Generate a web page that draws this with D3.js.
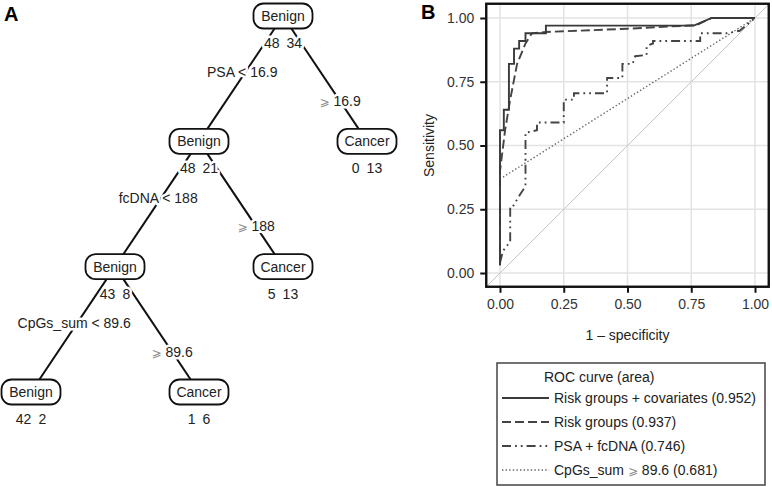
<!DOCTYPE html>
<html lang="en">
<head>
<meta charset="utf-8">
<title>Decision tree and ROC curves</title>
<script src="https://d3js.org/d3.v7.min.js"></script>
<style>
  body { margin: 0; background: #fff; }
  svg { font-family: "Liberation Sans", Arial, sans-serif; }
</style>
</head>
<body>
<script>
// ---- tree data (panel A)
const nodeIds      = ["n1", "n2", "n3", "n4", "n5", "n6", "n7"];
const nodeParents  = ["", "n1", "n1", "n2", "n2", "n4", "n4"];
const nodeClasses  = ["Benign", "Benign", "Cancer", "Benign", "Cancer", "Benign", "Cancer"];
const benignCounts = [48, 48, 0, 43, 5, 42, 1];
const cancerCounts = [34, 21, 13, 8, 13, 2, 6];
const splitLabels  = ["", "PSA < 16.9", "\u2A7E 16.9", "fcDNA < 188", "\u2A7E 188", "CpGs_sum < 89.6", "\u2A7E 89.6"];

// ---- ROC data (panel B)
const riskCovFpr  = [0, 0, 0.015, 0.015, 0.035, 0.035, 0.055, 0.055, 0.075, 0.075, 0.1, 0.1, 0.18, 0.18, 0.76, 0.83, 1];
const riskCovSens = [0.03, 0.56, 0.56, 0.64, 0.64, 0.82, 0.82, 0.88, 0.88, 0.91, 0.91, 0.94, 0.94, 0.97, 0.97, 1, 1];
const riskFpr  = [0, 0, 0.02, 0.04, 0.067, 0.1, 0.125, 0.18, 0.5, 0.77, 0.83, 1];
const riskSens = [0.03, 0.4, 0.56, 0.68, 0.82, 0.9, 0.94, 0.945, 0.958, 0.972, 1, 1];
const psaFpr  = [0, 0.01, 0.02, 0.04, 0.04, 0.05, 0.08, 0.1, 0.1, 0.145, 0.145, 0.25, 0.25, 0.29, 0.29, 0.42, 0.42, 0.48, 0.48, 0.52, 0.53, 0.575, 0.575, 0.6, 0.6, 0.785, 0.785, 0.89, 0.94, 1];
const psaSens = [0.04, 0.08, 0.1, 0.12, 0.26, 0.26, 0.31, 0.34, 0.55, 0.56, 0.59, 0.59, 0.68, 0.68, 0.705, 0.705, 0.765, 0.765, 0.82, 0.82, 0.85, 0.855, 0.89, 0.9, 0.91, 0.91, 0.94, 0.94, 0.95, 1];
const cpgFpr  = [0.012, 1];
const cpgSens = [0.376, 1];

const seriesNames = ["Risk groups + covariates (0.952)", "Risk groups (0.937)", "PSA + fcDNA (0.746)", "CpGs_sum \u2A7E 89.6 (0.681)"];
const axisTicks = [0, 0.25, 0.5, 0.75, 1];

const width = 772, height = 487;

const svg = d3.select("body").append("svg")
  .attr("width", width)
  .attr("height", height);

// ================= PANEL A : tree =================
svg.append("text").attr("x", 4).attr("y", 21)
  .attr("font-size", 20).attr("font-weight", "bold").text("A");

const table = nodeIds.map((id, i) => ({
  id, parent: nodeParents[i], cls: nodeClasses[i],
  benign: benignCounts[i], cancer: cancerCounts[i], split: splitLabels[i]
}));
const root = d3.stratify().id(d => d.id).parentId(d => d.parent || null)(table);

// column index: left child one step left, right child one step right
root.col = 3;
root.eachBefore(n => {
  if (n.children) {
    n.children[0].col = n.col - 1;
    if (n.children[1]) n.children[1].col = n.col + 1;
  }
});
const colX = d3.scaleLinear().domain([0, 4]).range([31, 367]);
const depthY = d3.scaleLinear().domain([0, 3]).range([16, 392]);
root.each(n => { n.x = colX(n.col); n.y = depthY(n.depth); });

const treeG = svg.append("g");
const links = root.links();

// edges
treeG.selectAll("line.edge").data(links).join("line")
  .attr("class", "edge")
  .attr("x1", d => d.source.x).attr("y1", d => d.source.y)
  .attr("x2", d => d.target.x).attr("y2", d => d.target.y)
  .attr("stroke", "#111").attr("stroke-width", 2);

// split labels on edges (white halo cuts the line)
const halo = sel => sel.attr("stroke", "#fff").attr("stroke-width", 5)
  .attr("paint-order", "stroke").attr("stroke-linejoin", "round");

links.forEach(l => {
  const isLeft = l.target.col < l.source.col;
  const t = isLeft ? 0.45 : 0.68;
  const lx = l.source.x + (l.target.x - l.source.x) * t + (isLeft ? -3 : 0);
  const ly = l.source.y + (l.target.y - l.source.y) * t;
  const txt = treeG.append("text")
    .attr("x", lx).attr("y", ly).attr("dy", "0.35em")
    .attr("text-anchor", "middle").attr("font-size", 14).attr("fill", "#222")
    .call(halo);
  const s = l.target.data.split;
  if (s.startsWith("\u2A7E")) {
    txt.append("tspan").attr("fill", "#888").attr("font-family", "DejaVu Sans").attr("font-size", 12).text("\u2A7E");
    txt.append("tspan").text(s.slice(1));
  } else {
    txt.text(s);
  }
});

// nodes
const nodeG = treeG.selectAll("g.node").data(root.descendants()).join("g")
  .attr("class", "node")
  .attr("transform", d => `translate(${d.x},${d.y})`);

nodeG.append("rect")
  .attr("x", -29.5).attr("y", -12.5).attr("width", 59).attr("height", 25)
  .attr("rx", 10).attr("ry", 10)
  .attr("fill", "#fff").attr("stroke", "#111").attr("stroke-width", 1.8);

nodeG.append("text")
  .attr("text-anchor", "middle").attr("dy", "0.36em")
  .attr("font-size", 14).attr("fill", "#222")
  .text(d => d.data.cls);

nodeG.append("text")
  .attr("y", 27).attr("dy", "0.36em").attr("text-anchor", "middle")
  .attr("font-size", 14).attr("fill", "#222")
  .call(halo)
  .text(d => `${d.data.benign}\u2002${d.data.cancer}`);

// ================= PANEL B : ROC =================
svg.append("text").attr("x", 421).attr("y", 19)
  .attr("font-size", 20).attr("font-weight", "bold").text("B");

const x = d3.scaleLinear().domain([0, 1]).range([500, 755]);
const y = d3.scaleLinear().domain([0, 1]).range([273, 18]);
const x0 = x(-0.05), x1 = x(1.05), y0 = y(-0.05), y1 = y(1.05);

const plot = svg.append("g");

// grid
plot.selectAll("line.gx").data(axisTicks).join("line")
  .attr("x1", d => x(d)).attr("x2", d => x(d)).attr("y1", y1).attr("y2", y0)
  .attr("stroke", "#e3e3e3").attr("stroke-width", 1.5);
plot.selectAll("line.gy").data(axisTicks).join("line")
  .attr("y1", d => y(d)).attr("y2", d => y(d)).attr("x1", x0).attr("x2", x1)
  .attr("stroke", "#e3e3e3").attr("stroke-width", 1.5);

// reference diagonal
plot.append("line")
  .attr("x1", x(-0.05)).attr("y1", y(-0.05)).attr("x2", x(1.05)).attr("y2", y(1.05))
  .attr("stroke", "#c8c8c8").attr("stroke-width", 1);

const line = d3.line().x(d => x(d[0])).y(d => y(d[1]));
const series = [
  { fpr: cpgFpr, sens: cpgSens, color: "#666", w: 1.4, dash: "1.4,2.2" },
  { fpr: psaFpr, sens: psaSens, color: "#444", w: 1.9, dash: "9,4,1.8,4,1.8,4" },
  { fpr: riskFpr, sens: riskSens, color: "#444", w: 1.9, dash: "9,4" },
  { fpr: riskCovFpr, sens: riskCovSens, color: "#3a3a3a", w: 1.9, dash: null }
];
series.forEach(s => {
  plot.append("path")
    .attr("d", line(s.fpr.map((f, i) => [f, s.sens[i]])))
    .attr("fill", "none").attr("stroke", s.color).attr("stroke-width", s.w)
    .attr("stroke-dasharray", s.dash);
});

// panel border
plot.append("rect")
  .attr("x", x0 - 1).attr("y", y1 - 1.5).attr("width", x1 - x0 + 2).attr("height", y0 - y1 + 2.5)
  .attr("fill", "none").attr("stroke", "#111").attr("stroke-width", 2.4);

// axes
const fmt = d3.format(".2f");
const xAxis = svg.append("g").attr("transform", `translate(0,${y0 + 1})`)
  .call(d3.axisBottom(x).tickValues(axisTicks).tickFormat(fmt).tickSize(6).tickPadding(6));
const yAxis = svg.append("g").attr("transform", `translate(${x0 - 1},0)`)
  .call(d3.axisLeft(y).tickValues(axisTicks).tickFormat(fmt).tickSize(6).tickPadding(6));
[xAxis, yAxis].forEach(a => {
  a.select(".domain").remove();
  a.selectAll(".tick line").attr("stroke", "#111").attr("stroke-width", 2);
  a.selectAll(".tick text").attr("font-size", 14).attr("fill", "#333")
    .attr("font-family", "Liberation Sans, Arial, sans-serif");
});

svg.append("text").attr("x", x(0.5)).attr("y", 335).attr("dy", "0.35em")
  .attr("text-anchor", "middle").attr("font-size", 14).attr("fill", "#222")
  .text("1 \u2013 specificity");
svg.append("text")
  .attr("transform", `translate(429,${y(0.5)}) rotate(-90)`)
  .attr("text-anchor", "middle").attr("dy", "0.35em").attr("font-size", 14).attr("fill", "#222")
  .text("Sensitivity");

// legend
const leg = svg.append("g");
leg.append("rect").attr("x", 497).attr("y", 363).attr("width", 268).attr("height", 122)
  .attr("fill", "#fff").attr("stroke", "#444").attr("stroke-width", 1.5);
leg.append("text").attr("x", 544).attr("y", 377).attr("dy", "0.35em")
  .attr("font-size", 14).attr("fill", "#222").text("ROC curve (area)");

const legStyles = series.slice().reverse();
const rowY = d3.scalePoint().domain(seriesNames).range([398, 470]);
seriesNames.forEach((name, i) => {
  const s = legStyles[i];
  const ry = rowY(name);
  leg.append("line").attr("x1", 502).attr("x2", 549).attr("y1", ry).attr("y2", ry)
    .attr("stroke", s.color).attr("stroke-width", s.w).attr("stroke-dasharray", s.dash);
  const t = leg.append("text").attr("x", 554).attr("y", ry).attr("dy", "0.35em")
    .attr("font-size", 14).attr("fill", "#222");
  if (name.includes("\u2A7E")) {
    const parts = name.split("\u2A7E");
    t.append("tspan").text(parts[0]);
    t.append("tspan").attr("fill", "#888").attr("font-family", "DejaVu Sans").attr("font-size", 12).text("\u2A7E");
    t.append("tspan").text(parts[1]);
  } else {
    t.text(name);
  }
});
</script>
</body>
</html>
